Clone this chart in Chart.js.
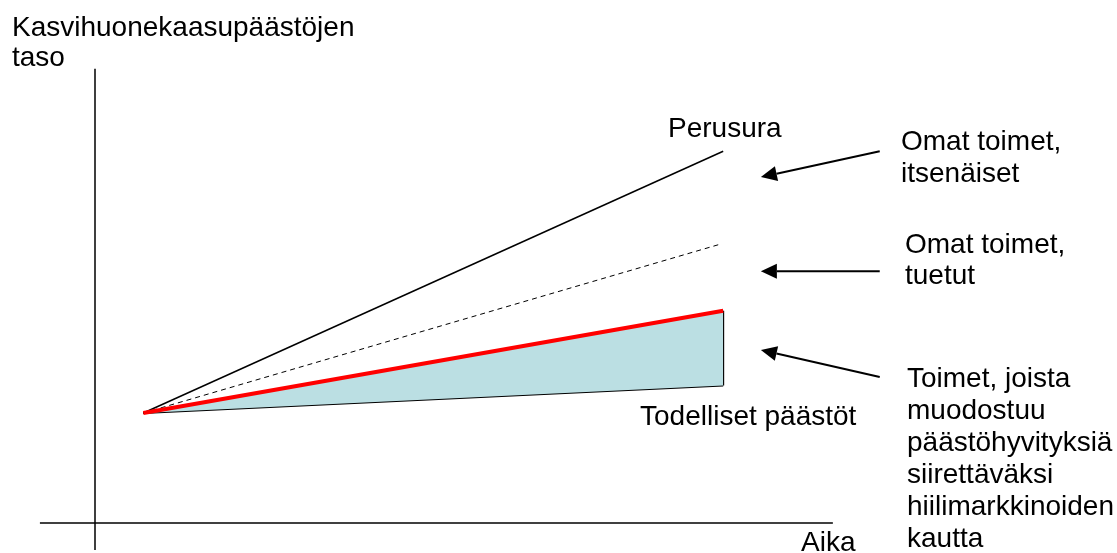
<!DOCTYPE html>
<html>
<head>
<meta charset="utf-8">
<script src="https://cdn.jsdelivr.net/npm/chart.js@4"></script>
<style>
  body { margin: 0; background: #fff; }
  canvas { display: block; }
</style>
</head>
<body>
<canvas id="kaavio" width="1117" height="553"></canvas>
<script>
// aika-akseli: alku- ja loppuhetki
const aika = [1, 13];
const aikaKatkoviiva = [1, 12.9];
// päästötasot (suhteellinen asteikko)
const perusura = [10, 33.8];
const tuetut = [10, 25.3];
const omatToimet = [10, 19.3];
const todelliset = [10, 12.5];
// akselit
const xAkseli = [-1.14, 15.27];
const yAkseli = [41.3, -2.45];
// nuolet: [alku-x, alku-y, kärki-x, kärki-y]
const nuolet = [
  [16.24, 33.8, 13.78, 31.45],
  [16.24, 22.9, 13.78, 22.9],
  [16.24, 13.27, 13.78, 15.73]
];

function pisteet(xs, ys) {
  return xs.map((x, i) => ({ x: x, y: ys[i] }));
}

const fontti = "28px 'Liberation Sans', Arial, sans-serif";

// tekstit ja nuolet piirretään viimeisenä
const tekstit = {
  id: "tekstit",
  afterDatasetsDraw(chart) {
    const ctx = chart.ctx;
    const sx = chart.scales.x;
    const sy = chart.scales.y;
    ctx.save();
    ctx.strokeStyle = "#000";
    ctx.fillStyle = "#000";
    ctx.lineWidth = 2;
    nuolet.forEach(n => {
      const x1 = sx.getPixelForValue(n[0]);
      const y1 = sy.getPixelForValue(n[1]);
      const x2 = sx.getPixelForValue(n[2]);
      const y2 = sy.getPixelForValue(n[3]);
      const kulma = Math.atan2(y2 - y1, x2 - x1);
      const pituus = 16;
      const bx = x2 - pituus * Math.cos(kulma);
      const by = y2 - pituus * Math.sin(kulma);
      ctx.beginPath();
      ctx.moveTo(x1, y1);
      ctx.lineTo(bx, by);
      ctx.stroke();
      ctx.beginPath();
      ctx.moveTo(x2, y2);
      ctx.lineTo(bx + 7.5 * Math.sin(kulma), by - 7.5 * Math.cos(kulma));
      ctx.lineTo(bx - 7.5 * Math.sin(kulma), by + 7.5 * Math.cos(kulma));
      ctx.closePath();
      ctx.fill();
    });

    ctx.font = fontti;
    ctx.textBaseline = "alphabetic";
    ctx.textAlign = "left";
    const rivit = [
      ["Kasvihuonekaasupäästöjen", 12, 36],
      ["taso", 12, 66],
      ["Perusura", 668, 137],
      ["Todelliset päästöt", 640, 425],
      ["Aika", 801, 551],
      ["Omat toimet,", 901, 150],
      ["itsenäiset", 901, 182],
      ["Omat toimet,", 905, 253],
      ["tuetut", 905, 284],
      ["Toimet, joista", 907, 387],
      ["muodostuu", 907, 419],
      ["päästöhyvityksiä", 907, 451],
      ["siirettäväksi", 907, 483],
      ["hiilimarkkinoiden", 907, 515],
      ["kautta", 907, 547]
    ];
    rivit.forEach(r => ctx.fillText(r[0], r[1], r[2]));
    ctx.restore();
  }
};

new Chart(document.getElementById("kaavio"), {
  type: "scatter",
  data: {
    datasets: [
      {
        label: "Omat toimet",
        data: pisteet(aika, omatToimet),
        showLine: true,
        borderColor: "#ff0000",
        borderWidth: 4,
        backgroundColor: "#bbdfe3",
        fill: "+1",
        order: 1
      },
      {
        label: "Todelliset päästöt",
        data: pisteet(aika, todelliset),
        showLine: true,
        borderColor: "#000",
        borderWidth: 2,
        order: 2
      },
      {
        label: "Reuna",
        data: pisteet([aika[1], aika[1]], [omatToimet[1], todelliset[1]]),
        showLine: true,
        borderColor: "#000",
        borderWidth: 2,
        order: 2
      },
      {
        label: "Perusura",
        data: pisteet(aika, perusura),
        showLine: true,
        borderColor: "#000",
        borderWidth: 1.5,
        order: 3
      },
      {
        label: "Omat toimet, tuetut",
        data: pisteet(aikaKatkoviiva, tuetut),
        showLine: true,
        borderColor: "#000",
        borderWidth: 1,
        borderDash: [5, 4],
        order: 3
      },
      {
        label: "x-akseli",
        data: pisteet(xAkseli, [0, 0]),
        showLine: true,
        borderColor: "#000",
        borderWidth: 1.5,
        order: 4
      },
      {
        label: "y-akseli",
        data: pisteet([0, 0], yAkseli),
        showLine: true,
        borderColor: "#000",
        borderWidth: 1.5,
        order: 4
      }
    ]
  },
  options: {
    responsive: false,
    animation: false,
    layout: { padding: 0 },
    elements: { point: { radius: 0, hoverRadius: 0 } },
    plugins: {
      legend: { display: false },
      tooltip: { enabled: false }
    },
    scales: {
      x: { type: "linear", display: false, min: -1.966, max: 21.15 },
      y: { type: "linear", display: false, min: -2.727, max: 47.55 }
    }
  },
  plugins: [tekstit]
});
</script>
</body>
</html>
